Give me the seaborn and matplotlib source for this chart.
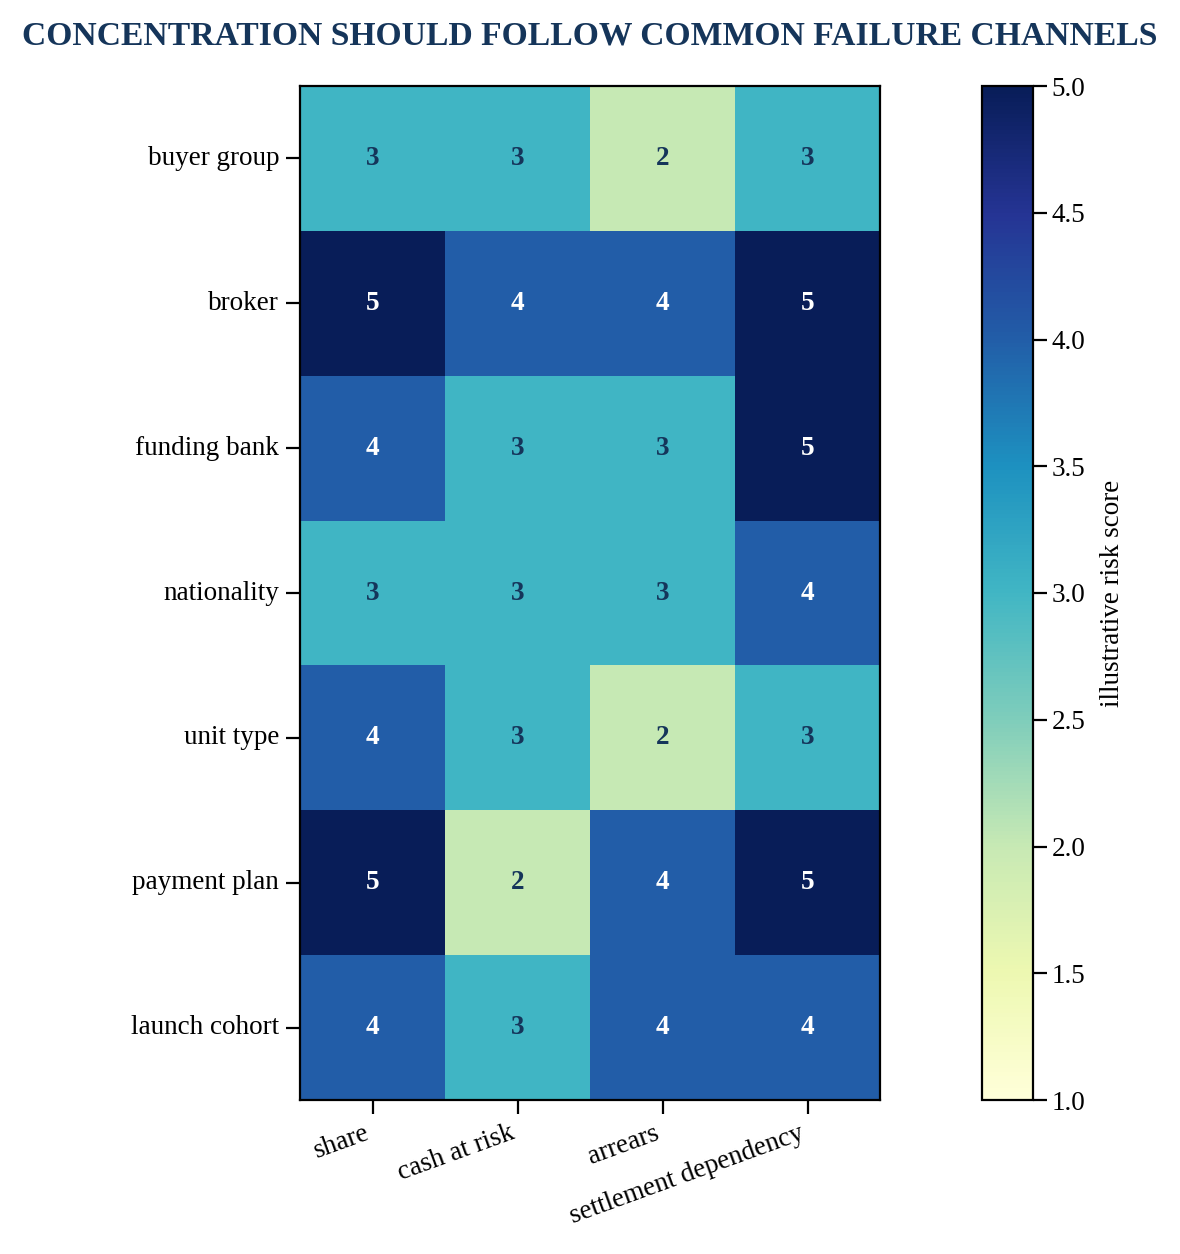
import numpy as np
import pandas as pd
import seaborn as sns
import matplotlib.pyplot as plt

# risk scores by concentration dimension (rows) and failure channel (cols)
dimensions = ["buyer group", "broker", "funding bank", "nationality",
              "unit type", "payment plan", "launch cohort"]
channels = ["share", "cash at risk", "arrears", "settlement dependency"]
share = [3, 5, 4, 3, 4, 5, 4]
cash_at_risk = [3, 4, 3, 3, 3, 2, 3]
arrears = [2, 4, 3, 3, 2, 4, 4]
settlement_dependency = [3, 5, 5, 4, 3, 5, 4]

scores = pd.DataFrame({"share": share, "cash at risk": cash_at_risk,
                       "arrears": arrears,
                       "settlement dependency": settlement_dependency},
                      index=dimensions)[channels]

plt.rcParams['font.family'] = ['Liberation Serif', 'DejaVu Serif']
navy = "#15355a"

fig = plt.figure(figsize=(11.8, 12.54), dpi=100)
ax = fig.add_axes([300 / 1180, 1 - 1100 / 1254, 580 / 1180, 1014 / 1254])
cax = fig.add_axes([982 / 1180, 1 - 1100 / 1254, 51 / 1180, 1014 / 1254])

sns.heatmap(scores, ax=ax, cbar_ax=cax, cmap="YlGnBu", vmin=1, vmax=5,
            annot=False, cbar_kws={"label": "illustrative risk score"})

# annotate, light text on dark cells
for i, dim in enumerate(dimensions):
    for j, ch in enumerate(channels):
        v = scores.loc[dim, ch]
        ax.text(j + 0.5, i + 0.5, str(v), ha="center", va="center",
                fontsize=19.5, fontweight="bold",
                color="white" if v >= 4 else navy)

for s in ax.spines.values():
    s.set_visible(True)
    s.set_linewidth(1.6)
ax.tick_params(axis="both", length=10, width=1.6, labelsize=19.5, pad=5)
ax.set_yticklabels(dimensions, rotation=0)
ax.set_xticklabels(channels, rotation=20, ha="right")
ax.set_xlabel("")
ax.set_ylabel("")

cb = ax.collections[0].colorbar
cb.outline.set_visible(True)
cb.outline.set_linewidth(1.6)
cb.set_ticks(np.arange(1, 5.01, 0.5))
cb.ax.tick_params(labelsize=19.5, length=10, width=1.6)
cb.set_label("illustrative risk score", fontsize=19.5, labelpad=10)

fig.suptitle("CONCENTRATION SHOULD FOLLOW COMMON FAILURE CHANNELS",
             x=0.5, y=0.984, fontsize=24.2, fontweight="bold", color=navy)

fig.savefig("out.png", dpi=100)
